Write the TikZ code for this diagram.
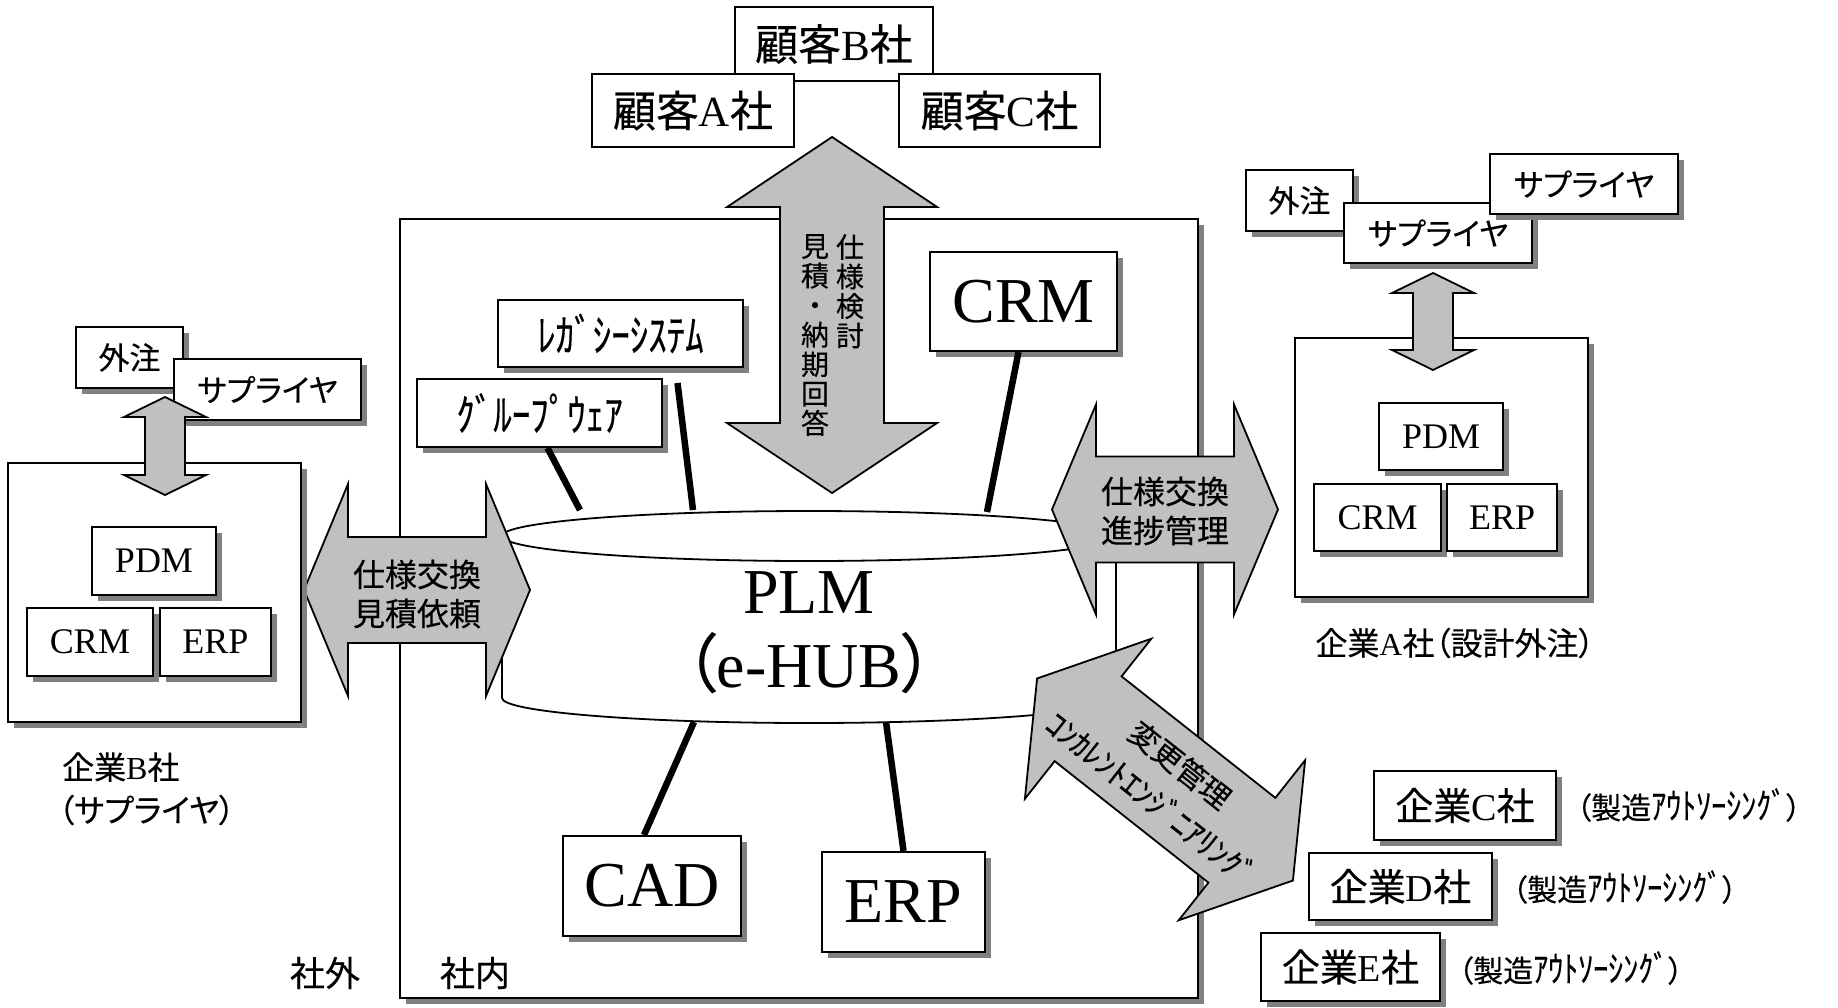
\documentclass[tikz,border=0pt]{standalone}
\usepackage{fontspec}
\setmainfont{Liberation Serif}
\newfontfamily\jpfont{Noto Sans CJK JP}[RawFeature=+palt, FakeBold=0.3]
\newcommand\jt[1]{{\jpfont #1}}
\newcommand\fs[2]{\fontsize{#1}{#2}\selectfont}
\usetikzlibrary{shadows}
\definecolor{arrowgray}{HTML}{C0C0C0}
\definecolor{shadowgray}{HTML}{808080}

\tikzset{
  box/.style={draw, line width=2pt, fill=white, inner sep=0pt},
  sbox/.style={box, drop shadow={shadow xshift=6pt, shadow yshift=-6pt, fill=shadowgray, opacity=1}},
  conn/.style={line width=6.5pt},
  arrowbody/.style={draw, line width=1.8pt, fill=arrowgray, line join=miter, miter limit=20},
  cyl/.style={draw, line width=1.8pt, fill=white},
  bigfont/.style={font=\fs{64}{70}},
  midfont/.style={font=\fs{36}{40}},
  jpbox/.style={font=\jpfont\fs{31}{36}},
  jplabel/.style={font=\jpfont\fs{32}{37}},
  arrowtext/.style={font=\jpfont\fs{32}{39}, align=center, inner sep=0pt},
  pics/darrow/.style args={#1/#2/#3/#4}{code={
    \path[arrowbody] (-#1,0) -- ({-#1+#2},-#3) -- ({-#1+#2},-#4) -- ({#1-#2},-#4)
      -- ({#1-#2},-#3) -- (#1,0) -- ({#1-#2},#3) -- ({#1-#2},#4)
      -- ({-#1+#2},#4) -- ({-#1+#2},#3) -- cycle;
  }},
}
% half-width katakana labels, drawn a little taller
\newcommand\tallkana[1]{\scalebox{1}[1.2]{#1}}

\begin{document}
\begin{tikzpicture}[x=1pt,y=-1pt]
\fill[white] (0,0) rectangle (1838,1007);
\useasboundingbox (0,0) rectangle (1838,1007);

% in-house frame
\node[sbox, minimum width=798, minimum height=779] (inhouse) at (799,608.5) {};
\node[font=\jpfont\fs{35}{40}] (outsidelbl) at (325,973) {社外};
\node[font=\jpfont\fs{35}{40}] (insidelbl) at (475,973) {社内};

% PLM hub cylinder
\draw[cyl] (502,536) -- (502,698) arc[start angle=180,end angle=0,x radius=307,y radius=25] -- (1116,536);
\draw[cyl] (809,536) ellipse [x radius=307, y radius=25];
\node[bigfont, anchor=base] (plm) at (809,613) {PLM};
\node[bigfont, anchor=base] (hub) at (809,687) {\jt{（}e-HUB\jt{）}};
\coordinate (hubGrp) at (580,510);
\coordinate (hubLeg) at (693,510);
\coordinate (hubCrm) at (987,512);
\coordinate (hubCad) at (694,722);
\coordinate (hubErp) at (886,722);

% in-house systems
\node[sbox, minimum width=245, minimum height=67, font=\jpfont\fs{37}{42}] (legacy) at (620.5,333.5) {\tallkana{ﾚｶﾞｼｰｼｽﾃﾑ}};
\node[sbox, minimum width=245, minimum height=68, font=\jpfont\fs{37}{42}] (groupware) at (539.5,413) {\tallkana{ｸﾞﾙｰﾌﾟｳｪｱ}};
\node[sbox, minimum width=187, minimum height=99, bigfont] (crm) at (1023.5,301.5) {CRM};
\node[sbox, minimum width=178, minimum height=100, bigfont] (cad) at (652,886) {CAD};
\node[sbox, minimum width=163, minimum height=100, bigfont] (erp) at (903.5,902) {ERP};

\draw[conn] ([xshift=8pt]groupware.south) -- (hubGrp);
\draw[conn] ([xshift=57pt,yshift=-15pt]legacy.south) -- (hubLeg);
\draw[conn] ([xshift=-5pt]crm.south) -- (hubCrm);
\draw[conn] ([xshift=-8pt]cad.north) -- (hubCad);
\draw[conn] (erp.north) -- (hubErp);

% customers
\node[box, minimum width=198, minimum height=74, font=\fs{43}{50}] (custB) at (834,44) {\jt{顧客}B\jt{社}};
\node[box, minimum width=202, minimum height=73, font=\fs{43}{50}] (custA) at (693,110.5) {\jt{顧客}A\jt{社}};
\node[box, minimum width=201, minimum height=73, font=\fs{43}{50}] (custC) at (999.5,110.5) {\jt{顧客}C\jt{社}};

% exchange arrows
\pic[rotate=90] at (832,315) {darrow={178/70/105/52}};
\node[font=\jpfont\fs{28}{29.5}, align=center, anchor=north, inner sep=0pt] (custtxtA) at (850,234) {仕\\様\\検\\討};
\node[font=\jpfont\fs{28}{29.5}, align=center, anchor=north, inner sep=0pt] (custtxtB) at (815,234) {見\\積\\・\\納\\期\\回\\答};

\pic at (417,590) {darrow={113/44/106/53}};
\node[arrowtext] (leftxt) at (417,594) {仕様交換\\見積依頼};

\pic at (1165,509.5) {darrow={113/44/105/53}};
\node[arrowtext] (righttxt) at (1165,511) {仕様交換\\進捗管理};

\pic[rotate=-38.3] at (1165,779.5) {darrow={163/65/102/54}};
\node[font=\jpfont\fs{30}{34}, rotate=-38.3, inner sep=0pt] (chgtxt) at (1180,765) {変更管理};
\node[font=\jpfont\fs{32}{36}, rotate=-38.3, inner sep=0pt] (cetxt) at (1151,798) {ｺﾝｶﾚﾝﾄｴﾝｼﾞﾆｱﾘﾝｸﾞ};

% company B (supplier)
\node[sbox, minimum width=293, minimum height=259] (compB) at (154.5,592.5) {};
\node[sbox, minimum width=124, minimum height=68, midfont] (pdmB) at (154,561) {PDM};
\node[sbox, minimum width=126, minimum height=68, midfont] (crmB) at (90,642) {CRM};
\node[sbox, minimum width=111, minimum height=68, midfont] (erpB) at (215.5,642) {ERP};
\node[sbox, minimum width=107, minimum height=61, jpbox] (outB) at (129.5,357.5) {外注};
\node[sbox, minimum width=187, minimum height=61, jpbox] (supB) at (267.5,389.5) {サプライヤ};
\pic[rotate=90] at (165,446) {darrow={49/20/41/20}};
\node[jplabel, anchor=west, inner sep=0pt] (compBname) at (62,767) {企業{\rmfamily B}社};
\node[jplabel, anchor=west, inner sep=0pt] (compBrole) at (58,810) {（サプライヤ）};

% company A (design outsourcing)
\node[sbox, minimum width=293, minimum height=259] (compA) at (1441.5,467.5) {};
\node[sbox, minimum width=124, minimum height=67, midfont] (pdmA) at (1441,436.5) {PDM};
\node[sbox, minimum width=127, minimum height=67, midfont] (crmA) at (1377.5,517.5) {CRM};
\node[sbox, minimum width=110, minimum height=67, midfont] (erpA) at (1502,517.5) {ERP};
\node[sbox, minimum width=107, minimum height=61, jpbox] (outA) at (1299.5,200.5) {外注};
\node[sbox, minimum width=188, minimum height=60, jpbox] (supA1) at (1438,233) {サプライヤ};
\node[sbox, minimum width=188, minimum height=60, jpbox] (supA2) at (1584,184) {サプライヤ};
\pic[rotate=90] at (1433,321.5) {darrow={48.5/20/41/20}};
\node[jplabel] (compAname) at (1455,643) {企業{\rmfamily A}社（設計外注）};

% manufacturing partners
\node[sbox, minimum width=182, minimum height=69, font=\fs{38}{44}] (compC) at (1465,805.5) {\jt{企業}C\jt{社}};
\node[sbox, minimum width=183, minimum height=67, font=\fs{38}{44}] (compD) at (1400.5,886.5) {\jt{企業}D\jt{社}};
\node[sbox, minimum width=179, minimum height=68, font=\fs{38}{44}] (compE) at (1350.5,967) {\jt{企業}E\jt{社}};
\node[font=\jpfont\fs{30}{34}, anchor=west, inner sep=0pt] (roleC) at (1576,805) {（製造\tallkana{ｱｳﾄｿｰｼﾝｸﾞ}）};
\node[font=\jpfont\fs{30}{34}, anchor=west, inner sep=0pt] (roleD) at (1512,887) {（製造\tallkana{ｱｳﾄｿｰｼﾝｸﾞ}）};
\node[font=\jpfont\fs{30}{34}, anchor=west, inner sep=0pt] (roleE) at (1458,968) {（製造\tallkana{ｱｳﾄｿｰｼﾝｸﾞ}）};
\end{tikzpicture}
\end{document}
